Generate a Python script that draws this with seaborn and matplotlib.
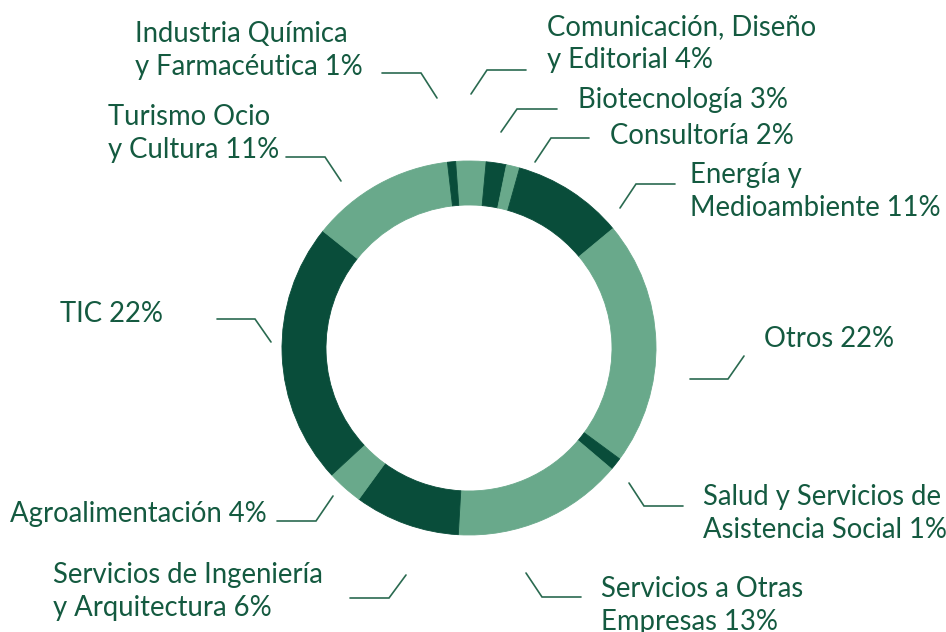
import matplotlib
matplotlib.use('Agg')
import matplotlib.pyplot as plt
import seaborn as sns

# Sectors in clockwise order, starting at 12 o'clock
SECTORS = ['Comunicación, Diseño y Editorial', 'Biotecnología', 'Consultoría',
           'Energía y Medioambiente', 'Otros', 'Salud y Servicios de Asistencia Social',
           'Servicios a Otras Empresas', 'Servicios de Ingeniería y Arquitectura',
           'Agroalimentación', 'TIC', 'Turismo Ocio y Cultura',
           'Industria Química y Farmacéutica']
# Share of the ring as drawn in the picture (%)
RING_SHARE = [2.6, 1.75, 1.15, 9.6, 21.1, 1.1, 14.7, 9.1, 3.1, 22.6, 12.4, 0.7]
# Text of each label, one entry per line
LABEL_LINES = [['Comunicación, Diseño', 'y Editorial 4%'],
               ['Biotecnología 3%'],
               ['Consultoría 2%'],
               ['Energía y', 'Medioambiente 11%'],
               ['Otros 22%'],
               ['Salud y Servicios de', 'Asistencia Social 1%'],
               ['Servicios a Otras', 'Empresas 13%'],
               ['Servicios de Ingeniería', 'y Arquitectura 6%'],
               ['Agroalimentación 4%'],
               ['TIC 22%'],
               ['Turismo Ocio', 'y Cultura 11%'],
               ['Industria Química', 'y Farmacéutica 1%']]

# Layout (pixels from top-left): first baseline of each label, leader polyline
TEXT_POS = [(547, 35), (578, 108), (610, 144), (690, 183), (764, 347),
            (703, 505), (601, 597), (53, 583), (10, 522), (60, 322),
            (108, 125), (135, 42)]
LEADERS = [[(526, 70), (487, 70), (471, 94)],
           [(557, 109), (517, 109), (501, 132)],
           [(589, 138), (551, 138), (535, 162)],
           [(675, 184), (636, 184), (620, 208)],
           [(690, 379), (728, 379), (744, 356)],
           [(629, 483), (644, 506), (683, 506)],
           [(526, 573), (542, 597), (581, 597)],
           [(350, 598), (389, 598), (406, 575)],
           [(277, 521), (316, 521), (333, 496)],
           [(217, 319), (255, 319), (271, 342)],
           [(286, 157), (325, 157), (341, 181)],
           [(382, 73), (421, 73), (437, 98)]]

W, H = 946, 632
DARK = '#094d3a'
LIGHT = '#69a98b'
TEXT = '#145a40'
LINE = '#2a6a50'

sns.set_theme(style='white')
plt.rcParams['font.family'] = ['Lato', 'DejaVu Sans']

palette = sns.color_palette([LIGHT, DARK])
colors = [palette[i % 2] for i in range(len(SECTORS))]

fig = plt.figure(figsize=(W / 100, H / 100), dpi=100)
ax = fig.add_axes([0, 0, 1, 1])

wedges, _ = ax.pie(RING_SHARE, colors=colors, startangle=94.1, counterclock=False,
                   radius=187, center=(469, H - 348),
                   wedgeprops=dict(width=44, linewidth=0.6))
for w in wedges:
    w.set_edgecolor(w.get_facecolor())

for lines, (tx, ty), pts in zip(LABEL_LINES, TEXT_POS, LEADERS):
    for k, line in enumerate(lines):
        ax.text(tx, H - (ty + 33 * k), line, ha='left', va='baseline',
                fontsize=19.8, color=TEXT)
    ax.plot([p[0] for p in pts], [H - p[1] for p in pts], color=LINE, lw=1.2,
            solid_joinstyle='miter')

ax.set_xlim(0, W)
ax.set_ylim(0, H)
ax.set_aspect('equal')
ax.axis('off')

plt.savefig('out.png', dpi=100)
